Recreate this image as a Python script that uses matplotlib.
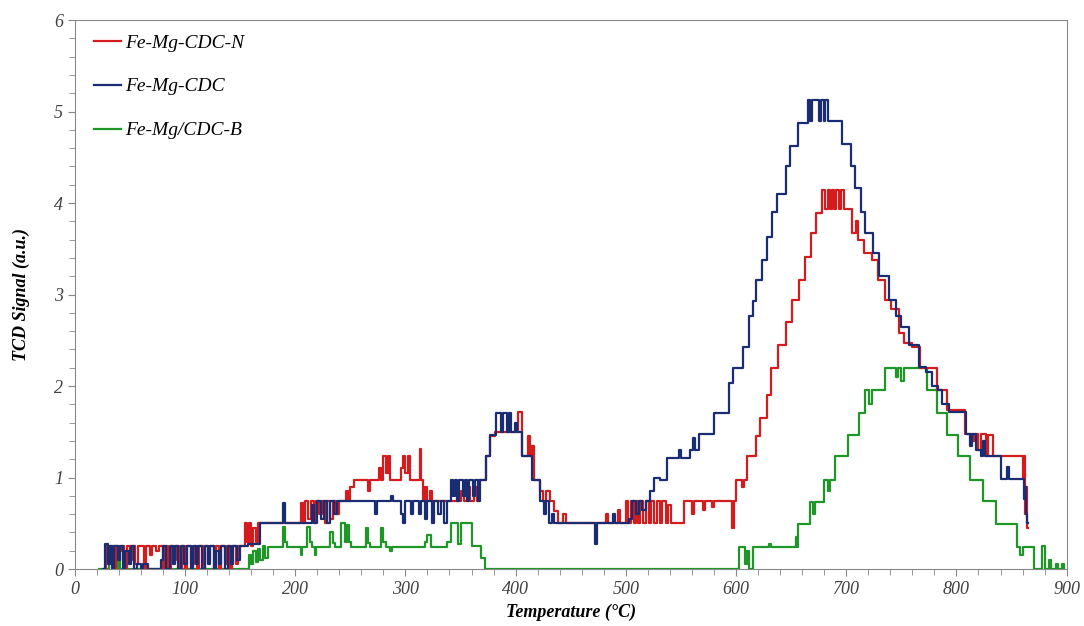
import numpy as np
import matplotlib.pyplot as plt

# (temperature °C, TCD signal), stepwise traces
red_data = [
    (27, 0), (28, 0.25), (30, 0.1), (32, 0.25), (35, 0), (37, 0.25), (40, 0.2), (42, 0.25),
    (45, 0), (47, 0.25), (50, 0.1), (52, 0.25), (55, 0.05), (57, 0.25), (63, 0), (65, 0.25),
    (68, 0.15), (70, 0.25), (74, 0.2), (76, 0.25),
    (80, 0), (82, 0.25), (85, 0), (87, 0.25), (90, 0.1), (92, 0.25), (95, 0), (97, 0.25),
    (100, 0), (102, 0.25), (105, 0.05), (108, 0.25), (111, 0), (113, 0.25), (116, 0), (118, 0.25),
    (121, 0.1), (123, 0.25), (126, 0), (128, 0.25), (131, 0), (133, 0.25), (136, 0.05), (138, 0.25),
    (141, 0), (143, 0.25), (146, 0.05), (148, 0.25), (154, 0.5), (156, 0.3), (158, 0.5), (160, 0.25),
    (162, 0.45), (164, 0.3), (166, 0.5), (205, 0.72), (207, 0.5), (209, 0.74), (212, 0.55), (214, 0.74),
    (217, 0.5), (219, 0.74), (222, 0.6), (224, 0.74), (227, 0.5), (229, 0.74), (232, 0.55), (234, 0.74),
    (237, 0.6), (240, 0.74), (246, 0.85), (248, 0.74), (250, 0.9), (253, 0.97), (266, 0.85), (268, 0.97),
    (276, 1.1), (278, 0.97), (280, 1.23), (282, 1.05), (284, 1.23), (286, 0.97), (296, 1.1), (298, 1.23),
    (300, 1.05), (302, 1.23), (304, 0.97), (313, 1.31), (314, 0.97), (316, 0.74), (318, 0.9), (320, 0.74),
    (322, 0.85), (324, 0.74), (350, 0.85), (353, 0.74), (356, 0.9), (359, 0.74), (362, 0.9), (365, 0.74),
    (367, 0.97), (373, 1.23), (377, 1.45), (381, 1.5), (402, 1.72), (406, 1.23), (411, 1.45), (413, 1.23),
    (415, 1.35), (417, 0.97), (422, 0.85), (425, 0.74), (428, 0.85), (431, 0.74), (435, 0.63), (438, 0.5),
    (443, 0.6), (446, 0.5), (482, 0.6), (484, 0.5), (493, 0.65), (495, 0.5), (500, 0.74), (502, 0.5),
    (505, 0.74), (507, 0.5), (509, 0.74), (511, 0.5), (513, 0.74), (516, 0.5), (518, 0.74), (521, 0.5),
    (523, 0.74), (526, 0.5), (528, 0.74), (531, 0.5), (533, 0.74), (536, 0.5), (538, 0.7), (541, 0.5),
    (553, 0.74), (560, 0.6), (562, 0.74), (570, 0.65), (572, 0.74), (578, 0.68), (580, 0.74), (596, 0.45),
    (598, 0.74), (600, 0.97), (605, 0.9), (607, 0.97), (610, 1.23), (618, 1.45), (622, 1.65), (628, 1.9),
    (632, 2.2), (638, 2.45), (645, 2.7), (651, 2.94), (657, 3.16), (663, 3.41), (668, 3.67), (673, 3.89),
    (678, 4.14), (681, 3.94), (683, 4.14), (685, 3.94), (687, 4.14), (689, 3.94), (691, 4.14), (693, 3.94),
    (695, 4.14), (698, 3.94), (705, 3.67), (709, 3.8), (711, 3.6), (716, 3.45), (723, 3.38), (729, 3.16),
    (735, 2.94), (741, 2.84), (748, 2.58), (752, 2.47), (760, 2.43), (767, 2.2), (782, 1.96), (791, 1.74),
    (808, 1.48), (815, 1.4), (817, 1.48), (820, 1.3), (822, 1.48), (827, 1.23), (829, 1.46), (833, 1.23),
    (860, 0.98), (861, 1.23), (862, 0.6), (863, 0.9), (864, 0.45), (865, 0.45),
]

blue_data = [
    (26, 0), (27, 0.27), (30, 0.05), (32, 0.25), (34, 0), (36, 0.25), (39, 0.1), (41, 0.25),
    (44, 0), (46, 0.2), (49, 0.05), (51, 0.25), (54, 0), (56, 0.05), (60, 0), (62, 0.05),
    (66, 0), (78, 0.1), (80, 0.25), (83, 0), (86, 0.25), (89, 0.05), (91, 0.25), (94, 0),
    (96, 0.25), (99, 0.05), (102, 0.25), (105, 0), (107, 0.25), (110, 0.05), (112, 0.25), (115, 0),
    (118, 0.25), (121, 0.05), (123, 0.25), (126, 0), (128, 0.2), (131, 0.05), (133, 0.25), (136, 0),
    (139, 0.25), (142, 0.05), (144, 0.25), (147, 0.1), (150, 0.25), (157, 0.27), (168, 0.5), (189, 0.72),
    (191, 0.5), (215, 0.7), (217, 0.5), (220, 0.74), (223, 0.55), (226, 0.74), (229, 0.5), (232, 0.74),
    (235, 0.6), (238, 0.74), (272, 0.6), (274, 0.74), (287, 0.8), (289, 0.74), (296, 0.6), (298, 0.5),
    (300, 0.74), (305, 0.6), (307, 0.74), (312, 0.6), (314, 0.74), (318, 0.55), (320, 0.74), (324, 0.5),
    (326, 0.74), (330, 0.6), (332, 0.74), (335, 0.5), (338, 0.74), (341, 0.97), (343, 0.8), (345, 0.97),
    (347, 0.74), (349, 0.97), (352, 0.8), (354, 0.97), (356, 0.74), (358, 0.97), (361, 0.8), (363, 0.97),
    (366, 0.74), (368, 0.97), (373, 1.23), (377, 1.46), (382, 1.7), (387, 1.5), (389, 1.7), (392, 1.5),
    (394, 1.7), (396, 1.5), (399, 1.6), (401, 1.5), (406, 1.23), (415, 0.97), (422, 0.74), (426, 0.6),
    (428, 0.74), (430, 0.5), (433, 0.6), (435, 0.5), (472, 0.27), (474, 0.5), (488, 0.6), (490, 0.5),
    (503, 0.55), (506, 0.74), (509, 0.6), (512, 0.74), (515, 0.65), (518, 0.74), (522, 0.85), (526, 1.0),
    (531, 0.97), (537, 1.21), (548, 1.3), (550, 1.21), (558, 1.3), (561, 1.43), (563, 1.3), (566, 1.48),
    (580, 1.7), (591, 1.7), (594, 2.03), (597, 2.2), (606, 2.43), (612, 2.76), (615, 2.93), (618, 3.16),
    (624, 3.38), (628, 3.63), (633, 3.9), (637, 4.1), (645, 4.4), (649, 4.62), (656, 4.87), (665, 5.13),
    (667, 4.9), (669, 5.13), (675, 4.9), (677, 5.13), (680, 4.9), (681, 5.13), (683, 4.9), (696, 4.65),
    (704, 4.4), (708, 4.16), (713, 3.9), (717, 3.67), (724, 3.45), (730, 3.2), (739, 2.94), (745, 2.76),
    (750, 2.64), (757, 2.45), (766, 2.21), (772, 2.15), (778, 2.0), (783, 1.96), (787, 1.8), (793, 1.72),
    (809, 1.48), (812, 1.35), (814, 1.48), (818, 1.3), (822, 1.23), (824, 1.4), (826, 1.23), (840, 0.98),
    (846, 1.12), (848, 0.98), (861, 0.76), (862, 0.9), (863, 0.6), (864, 0.5), (865, 0.5),
]

green_data = [
    (22, 0), (31, 0.2), (33, 0.05), (35, 0.25), (37, 0.0), (39, 0.2), (41, 0.0), (158, 0.15),
    (160, 0.05), (162, 0.2), (164, 0.08), (166, 0.22), (168, 0.1), (171, 0.25), (173, 0.12), (175, 0.24),
    (189, 0.46), (191, 0.3), (193, 0.24), (205, 0.15), (206, 0.24), (211, 0.46), (213, 0.3), (215, 0.24),
    (218, 0.15), (219, 0.24), (232, 0.4), (234, 0.28), (236, 0.24), (242, 0.5), (245, 0.3), (247, 0.48),
    (249, 0.3), (251, 0.24), (264, 0.45), (266, 0.28), (268, 0.24), (278, 0.45), (280, 0.3), (282, 0.24),
    (286, 0.2), (288, 0.24), (318, 0.3), (320, 0.37), (323, 0.24), (338, 0.3), (341, 0.5), (348, 0.27),
    (350, 0.5), (360, 0.25), (369, 0.12), (372, 0.0), (603, 0.24), (608, 0.05), (610, 0.2), (612, 0.0),
    (615, 0.24), (630, 0.27), (632, 0.24), (654, 0.35), (655, 0.24), (656, 0.49), (667, 0.735), (670, 0.6),
    (672, 0.735), (680, 0.97), (683, 0.85), (685, 0.97), (690, 1.23), (702, 1.46), (712, 1.7), (717, 1.96),
    (721, 1.8), (723, 1.96), (735, 2.2), (745, 2.1), (747, 2.2), (750, 2.05), (752, 2.2), (773, 1.96),
    (782, 1.7), (791, 1.46), (801, 1.23), (812, 0.97), (824, 0.74), (836, 0.49), (855, 0.24), (858, 0.15),
    (860, 0.24), (870, 0.0), (878, 0.25), (880, 0.0), (884, 0.1), (886, 0.0), (890, 0.05), (892, 0.0),
    (896, 0.05), (898, 0.0),
]

series = [
    ('Fe-Mg-CDC-N', red_data, '#d41c1f'),
    ('Fe-Mg-CDC', blue_data, '#1a2d72'),
    ('Fe-Mg/CDC-B', green_data, '#1e9628'),
]

plt.rcParams['font.family'] = ['Liberation Serif', 'DejaVu Serif']

fig = plt.figure(figsize=(10.84, 6.26), dpi=100)
ax = fig.add_axes([0.069, 0.091, 0.915, 0.877])

# green first so red/blue sit on top
for name, data, color in [series[2], series[0], series[1]]:
    t, s = zip(*data)
    ax.plot(t, s, drawstyle='steps-post', color=color, linewidth=1.6, label=name)

handles, labels = ax.get_legend_handles_labels()
order = [1, 2, 0]
ax.legend([handles[i] for i in order], [labels[i] for i in order],
          loc='upper left', bbox_to_anchor=(0.0, 1.01), frameon=False,
          handlelength=1.4, handletextpad=0.2, labelspacing=1.35, borderaxespad=0.6,
          prop={'style': 'italic', 'size': 14})

ax.set_xlim(0, 900)
ax.set_ylim(0, 6)
ax.set_xticks(np.arange(0, 901, 100))
ax.set_xticks(np.arange(0, 901, 20), minor=True)
ax.set_yticks(np.arange(0, 7, 1))
ax.set_yticks(np.arange(0, 6.01, 0.2), minor=True)

ax.tick_params(which='both', direction='out', colors='#888888', labelcolor='#404040',
               labelsize=13, top=False, right=False)
ax.tick_params(which='major', length=5)
ax.tick_params(which='minor', length=4)
for lbl in ax.get_xticklabels() + ax.get_yticklabels():
    lbl.set_fontstyle('italic')
for sp in ax.spines.values():
    sp.set_color('#888888')

ax.set_xlabel('Temperature (°C)', fontsize=13, fontweight='bold', fontstyle='italic')
ax.set_ylabel('TCD Signal (a.u.)', fontsize=13, fontweight='bold', fontstyle='italic')
ax.yaxis.set_label_coords(-0.045, 0.5)

fig.savefig('out.png', dpi=100)
